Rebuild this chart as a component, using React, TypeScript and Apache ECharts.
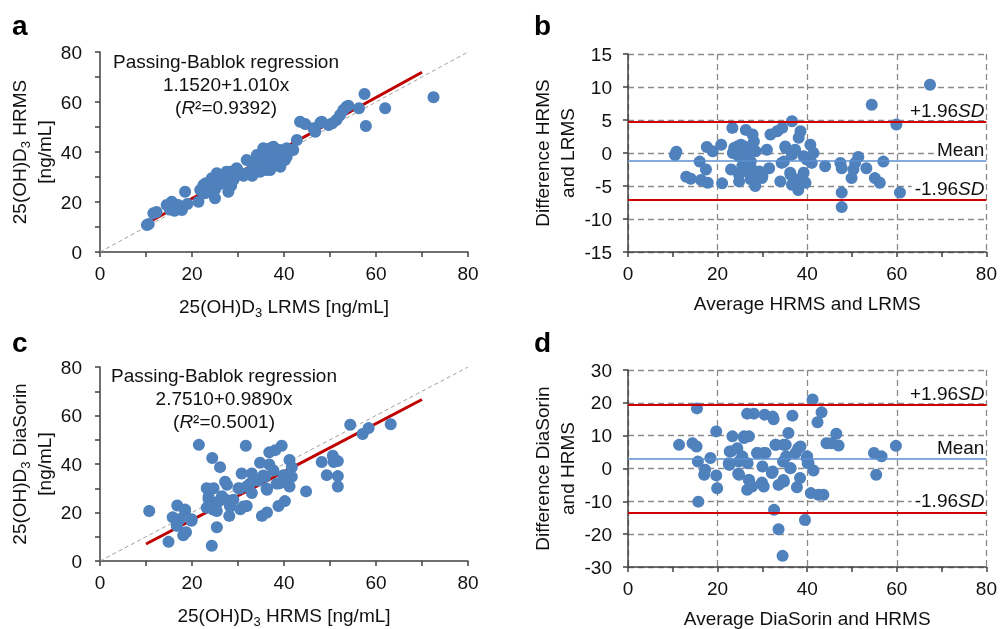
import React, { useEffect, useRef } from "react";
import * as echarts from "echarts";

const FONT = "'Liberation Sans', Arial, sans-serif";
const DOT = "#4f81bd";
const RED = "#d00000";
const MEANBLUE = "#5b8fd0";
const AXIS = "#404040";
const TXT = "#111111";

// Panel a: 25(OH)D3 LRMS (x) vs HRMS (y)
const aPoints: number[][] = [
  [10.2, 10.8], [10.6, 11.2], [11.6, 15.5], [12.3, 16.0], [14.5, 18.8], [15.6, 20.1], [15.2, 17.0],
  [17.0, 18.8], [17.8, 16.8], [16.2, 16.5], [18.5, 24.1], [19.0, 19.2], [21.4, 20.1], [21.8, 24.8],
  [22.5, 26.8], [22.8, 23.5], [23.4, 25.5], [23.9, 26.1], [24.3, 29.5], [24.7, 28.1], [25.0, 21.5],
  [25.4, 31.5], [25.0, 25.0], [25.8, 27.0], [26.5, 30.1], [26.8, 27.5], [27.5, 32.1], [27.9, 24.1],
  [28.3, 32.1], [28.5, 26.5], [29.0, 28.8], [29.5, 30.5], [29.7, 33.5], [30.3, 31.0], [31.2, 30.5],
  [31.9, 36.8], [31.9, 31.5], [33.1, 30.5], [33.3, 31.5], [34.1, 38.8], [34.8, 32.1], [35.0, 35.5],
  [35.2, 38.8], [35.5, 41.5], [35.8, 37.5], [36.2, 32.8], [36.3, 36.8], [36.5, 39.5], [37.0, 41.5],
  [37.0, 32.8], [37.5, 37.5], [37.7, 42.1], [38.2, 38.5], [38.4, 34.8], [38.8, 40.0], [39.1, 40.8],
  [39.2, 34.1], [39.5, 37.5], [40.2, 36.8], [40.6, 38.1], [40.6, 41.5], [42.0, 40.8], [42.8, 44.8],
  [43.5, 52.1], [44.6, 51.2], [46.4, 49.5], [46.8, 48.1], [47.9, 51.7], [48.2, 52.1], [49.7, 50.8],
  [50.5, 51.5], [51.4, 52.8], [52.2, 54.8], [52.9, 56.8], [53.6, 58.1], [54.0, 58.5], [56.3, 57.5],
  [57.5, 63.2], [57.8, 50.4], [62.0, 57.5], [72.5, 61.9], [23.0, 27.5], [24.0, 24.0], [26.0, 29.0],
  [27.0, 30.0], [28.0, 29.5], [30.0, 32.5], [33.0, 35.5], [34.5, 36.0],
];

// Panel b: average (x) vs difference HRMS-LRMS (y)
const bPoints: number[][] = [
  [10.5, -0.3], [10.8, 0.2], [13.0, -3.6], [14.0, -3.9], [16.0, -1.3], [16.3, -4.1], [17.4, -2.5],
  [17.6, 0.9], [17.8, -4.5], [18.9, 0.25], [20.8, 1.25], [21.0, -4.6], [23.0, -2.5], [23.3, 3.8],
  [23.4, 0], [23.7, 0.75], [24.4, 1.0], [24.7, -0.5], [24.8, -3.3], [24.8, -4.3], [25.2, 1.25],
  [25.5, -2.0], [25.9, -0.25], [26.3, 3.5], [26.7, -2.8], [27.4, -1.3], [27.4, -4.0], [27.7, -2.5],
  [27.8, 2.8], [28.1, 1.75], [28.4, -5.0], [28.5, 0.25], [29.3, -2.8], [29.9, -3.8], [30.0, -3.5],
  [31.0, 0.5], [31.5, -2.3], [31.8, 2.8], [33.3, 3.3], [34.0, -4.3], [34.3, -1.5], [34.4, 3.8],
  [34.8, -1.3], [35.1, 1.0], [35.2, 0.75], [36.2, -3.0], [36.3, -3.3], [36.6, 4.8], [36.6, -0.25],
  [36.6, -4.8], [37.3, 0.5], [37.4, -4.8], [38.0, -5.6], [38.1, 2.3], [38.1, -4.0], [38.5, 3.3],
  [39.2, -0.5], [39.2, -3.0], [39.6, -4.5], [39.9, -1.0], [40.7, 1.25], [41.0, -1.5], [41.4, 0],
  [44.0, -2.0], [47.4, -1.5], [47.7, -2.3], [47.7, -6.0], [47.7, -8.2], [49.9, -3.8], [50.3, -2.5],
  [50.7, -1.5], [51.4, -0.6], [53.2, -2.3], [54.4, 7.3], [55.1, -3.8], [56.2, -4.5], [57.0, -1.3],
  [59.9, 4.3], [60.7, -6.0], [67.4, 10.35], [26.0, 1.0], [27.0, 0.3], [25.5, 0.4],
];
const bLimitValues = [4.7, -1.2, -7.1]; // +1.96SD, mean, -1.96SD

// Panel c: HRMS (x) vs DiaSorin (y)
const cPoints: number[][] = [
  [10.7, 20.6], [14.9, 7.9], [15.8, 18.0], [16.7, 14.6], [16.8, 22.9], [17.4, 17.3], [18.1, 10.6],
  [18.5, 20.6], [18.7, 11.9], [19.9, 16.6], [21.5, 47.9], [23.2, 30.0], [23.2, 22.0], [23.6, 25.6],
  [24.3, 6.3], [24.4, 42.5], [24.7, 30.0], [25.4, 24.0], [25.4, 20.6], [25.4, 13.9], [26.1, 38.7],
  [26.5, 26.7], [27.2, 32.7], [27.6, 31.4], [28.1, 18.6], [28.3, 22.7], [29.0, 25.3], [30.1, 30.0],
  [30.5, 21.3], [30.8, 36.1], [31.7, 47.5], [31.9, 22.7], [31.9, 30.7], [33.0, 36.1], [33.0, 28.0],
  [34.8, 40.5], [35.2, 18.6], [35.9, 34.7], [36.3, 20.0], [36.3, 29.4], [36.8, 39.8], [36.8, 44.8],
  [38.1, 45.7], [38.8, 22.7], [39.0, 32.0], [39.5, 47.5], [39.9, 35.4], [40.2, 24.7], [41.2, 41.7],
  [41.2, 30.7], [41.7, 38.7], [41.7, 34.7], [44.8, 28.7], [48.2, 40.8], [49.3, 35.4], [50.6, 43.4],
  [50.8, 40.8], [51.7, 41.2], [51.7, 35.0], [51.7, 30.7], [54.4, 56.2], [57.1, 52.4], [58.4, 54.8],
  [63.2, 56.4], [23.6, 26.5], [25.7, 24.5], [27.5, 25.2], [28.3, 22.5], [30.4, 29.9], [31.2, 22.5],
  [32.6, 31.9], [34.4, 33.2], [35.5, 35.3], [36.2, 29.9], [38.4, 31.9], [39.9, 34.6], [24.6, 21.2],
  [18.5, 21.2], [19.9, 17.2], [16.7, 14.5], [37.7, 37.3],
];

// Panel d: average (x) vs difference DiaSorin-HRMS (y)
const dPoints: number[][] = [
  [11.4, 7.2], [14.4, 7.7], [15.3, 6.7], [15.4, 18.3], [15.6, 2.1], [15.7, -10.1], [17.0, -1.9],
  [17.2, -0.4], [18.4, 3.2], [19.7, 11.3], [19.7, -2.1], [19.9, -6.0], [22.5, 1.6], [22.7, 5.2],
  [23.3, 9.8], [24.6, -1.6], [24.7, 2.1], [25.9, 9.8], [27.0, 9.8], [26.6, 16.7], [28.1, 16.7],
  [27.0, -3.5], [26.6, -6.5], [27.7, -5.5], [28.8, 4.7], [30.3, 4.7], [29.9, -4.3], [30.3, -5.5],
  [30.5, 16.4], [32.3, 15.8], [32.5, 15.0], [32.9, 7.2], [32.1, -1.4], [32.6, -12.6], [33.6, -18.5],
  [33.6, -5.0], [34.7, -3.5], [34.5, -26.6], [34.7, 7.2], [35.8, 10.8], [35.3, 3.7], [36.2, 0.1],
  [36.7, 16.1], [37.7, -5.7], [38.4, -2.9], [38.0, 6.2], [39.5, -15.7], [39.9, 3.2], [40.1, 1.6],
  [41.4, -0.6], [41.2, 21.0], [40.8, -7.5], [42.3, 14.1], [43.2, 17.1], [42.5, -8.0], [43.6, -8.0],
  [44.3, 7.7], [45.4, 7.7], [46.5, 10.6], [47.0, 7.0], [54.9, 4.7], [55.4, -1.9], [56.6, 3.7],
  [59.8, 6.9], [23.0, 5.2], [24.4, 6.2], [25.9, 9.3], [25.5, 3.7], [26.7, 1.6], [22.6, 1.1],
  [24.8, -1.9], [27.0, -3.5], [28.9, 4.7], [30.7, 4.7], [30.0, 0.6], [33.0, 7.2], [32.3, -0.9],
  [34.6, 2.1], [35.2, 7.2], [36.3, 0.1], [37.4, 4.7], [38.5, 6.7], [40.0, 3.7], [40.3, 1.6],
  [34.8, -4.0],
];
const dLimitValues = [19.3, 2.85, -13.4];

const identityLine = [[0, 0], [80, 80]];
const aRegression = [[11, 12.3], [70, 71.9]];
const cRegression = [[10, 7.0], [70, 66.6]];

const limitLabels = ["+1.96{i|SD}", "Mean", "-1.96{i|SD}"];

const subRich = {
  sub: { fontSize: 13, fontFamily: FONT, color: TXT, verticalAlign: "bottom", lineHeight: 25 },
};

export default function App() {
  const ref = useRef<HTMLDivElement>(null);
  useEffect(() => {
    if (!ref.current) return;
    const chart = echarts.init(ref.current, undefined, { renderer: "svg" });
    const axisLineStyle = { color: AXIS, width: 1.5 };
    const gridLine = { color: "#8a8a8a", width: 1.3, type: [6, 4] };

    const xAxis = (gridIndex: number, name: string, grid: boolean) => ({
      type: "value",
      gridIndex,
      min: 0,
      max: 80,
      interval: 20,
      name,
      nameLocation: "middle",
      nameGap: 42,
      nameTextStyle: { fontFamily: FONT, fontSize: 19, color: TXT, rich: subRich },
      axisLine: { show: true, onZero: false, lineStyle: axisLineStyle },
      axisTick: { show: true, length: 5, lineStyle: axisLineStyle },
      minorTick: { show: true, splitNumber: 2, length: 5, lineStyle: axisLineStyle },
      axisLabel: { fontFamily: FONT, fontSize: 19, color: TXT, margin: 12 },
      splitLine: { show: grid, lineStyle: gridLine },
      minorSplitLine: { show: false },
    });
    const yAxis = (
      gridIndex: number,
      name: string,
      min: number,
      max: number,
      interval: number,
      minor: boolean,
      grid: boolean,
      gap: number,
      margin: number
    ) => ({
      type: "value",
      gridIndex,
      min,
      max,
      interval,
      name,
      nameLocation: "middle",
      nameGap: gap,
      nameRotate: 90,
      nameTextStyle: { fontFamily: FONT, fontSize: 19, color: TXT, lineHeight: 25, rich: subRich },
      axisLine: { show: true, onZero: false, lineStyle: axisLineStyle },
      axisTick: { show: true, length: 5, lineStyle: axisLineStyle },
      minorTick: { show: minor, splitNumber: 2, length: 5, lineStyle: axisLineStyle },
      axisLabel: { fontFamily: FONT, fontSize: 19, color: TXT, margin },
      splitLine: { show: grid, lineStyle: gridLine },
      minorSplitLine: { show: false },
    });

    const limitMark = (vals: number[]) => ({
      silent: true,
      symbol: "none",
      animation: false,
      label: {
        show: true,
        position: "insideEndTop",
        distance: 2,
        fontFamily: FONT,
        fontSize: 19,
        color: TXT,
        backgroundColor: "#ffffff",
        padding: [0, 0, 0, 3],
        rich: { i: { fontStyle: "italic", fontFamily: FONT, fontSize: 19, color: TXT } },
      },
      data: vals.map((v, i) => ({
        yAxis: v,
        label: { formatter: limitLabels[i] },
        lineStyle: { color: i === 1 ? MEANBLUE : RED, width: i === 1 ? 1.5 : 2, type: "solid" },
      })),
    });

    const scatter = (idx: number, data: number[][]) => ({
      type: "scatter",
      xAxisIndex: idx,
      yAxisIndex: idx,
      data,
      symbolSize: 12,
      itemStyle: { color: DOT, opacity: 1 },
      z: 4,
    });
    const line = (idx: number, data: number[][], color: string, width: number, type: any, z: number) => ({
      type: "line",
      xAxisIndex: idx,
      yAxisIndex: idx,
      data,
      symbol: "none",
      lineStyle: { color, width, type },
      z,
    });

    const annotation = (x: number, y: number, eq: string, r2: string) => [
      {
        type: "text",
        x,
        y,
        style: { text: "Passing-Bablok regression", fontFamily: FONT, fontSize: 19, fill: TXT, align: "center", verticalAlign: "middle" },
      },
      {
        type: "text",
        x,
        y: y + 23,
        style: { text: eq, fontFamily: FONT, fontSize: 19, fill: TXT, align: "center", verticalAlign: "middle" },
      },
      {
        type: "text",
        x,
        y: y + 46,
        style: {
          text: "({i|R}²=" + r2 + ")",
          fontFamily: FONT,
          fontSize: 19,
          fill: TXT,
          align: "center",
          verticalAlign: "middle",
          rich: { i: { fontStyle: "italic", fontFamily: FONT, fontSize: 19, fill: TXT } },
        },
      },
    ];
    const letter = (t: string, x: number, y: number) => ({
      type: "text",
      x,
      y,
      style: { text: t, fontFamily: FONT, fontSize: 28, fontWeight: "bold", fill: "#000", align: "left", verticalAlign: "middle" },
    });

    chart.setOption({
      animation: false,
      grid: [
        { left: 100, top: 52, width: 368, height: 200 },
        { left: 628, top: 54, width: 361, height: 198 },
        { left: 100, top: 367, width: 368, height: 199 },
        { left: 628, top: 370, width: 361, height: 197 },
      ],
      xAxis: [
        xAxis(0, "25(OH)D{sub|3} LRMS [ng/mL]", false),
        xAxis(1, "Average HRMS and LRMS", true),
        xAxis(2, "25(OH)D{sub|3} HRMS [ng/mL]", false),
        xAxis(3, "Average DiaSorin and HRMS", true),
      ],
      yAxis: [
        yAxis(0, "25(OH)D{sub|3} HRMS\n[ng/mL]", 0, 80, 20, true, false, 42, 18),
        yAxis(1, "Difference HRMS\nand LRMS", -15, 15, 5, false, true, 48, 16),
        yAxis(2, "25(OH)D{sub|3} DiaSorin\n[ng/mL]", 0, 80, 20, true, false, 42, 18),
        yAxis(3, "Difference DiaSorin\nand HRMS", -30, 30, 10, false, true, 48, 16),
      ],
      series: [
        line(0, identityLine, "#a0a0a0", 1, [4, 3], 1),
        line(0, aRegression, "#c00000", 3, "solid", 2),
        scatter(0, aPoints),
        { type: "scatter", xAxisIndex: 1, yAxisIndex: 1, data: [], z: 2, markLine: limitMark(bLimitValues) },
        scatter(1, bPoints),
        line(2, identityLine, "#a0a0a0", 1, [4, 3], 1),
        line(2, cRegression, "#c00000", 3, "solid", 2),
        scatter(2, cPoints),
        { type: "scatter", xAxisIndex: 3, yAxisIndex: 3, data: [], z: 2, markLine: limitMark(dLimitValues) },
        scatter(3, dPoints),
      ],
      graphic: [
        letter("a", 12, 25),
        letter("b", 534, 25),
        letter("c", 12, 342),
        letter("d", 534, 342),
        ...annotation(226, 61, "1.1520+1.010x", "0.9392"),
        ...annotation(224, 375, "2.7510+0.9890x", "0.5001"),
      ],
    });
    return () => chart.dispose();
  }, []);
  return <div ref={ref} style={{ position: "fixed", left: 0, top: 0, width: 1000, height: 629 }} />;
}
